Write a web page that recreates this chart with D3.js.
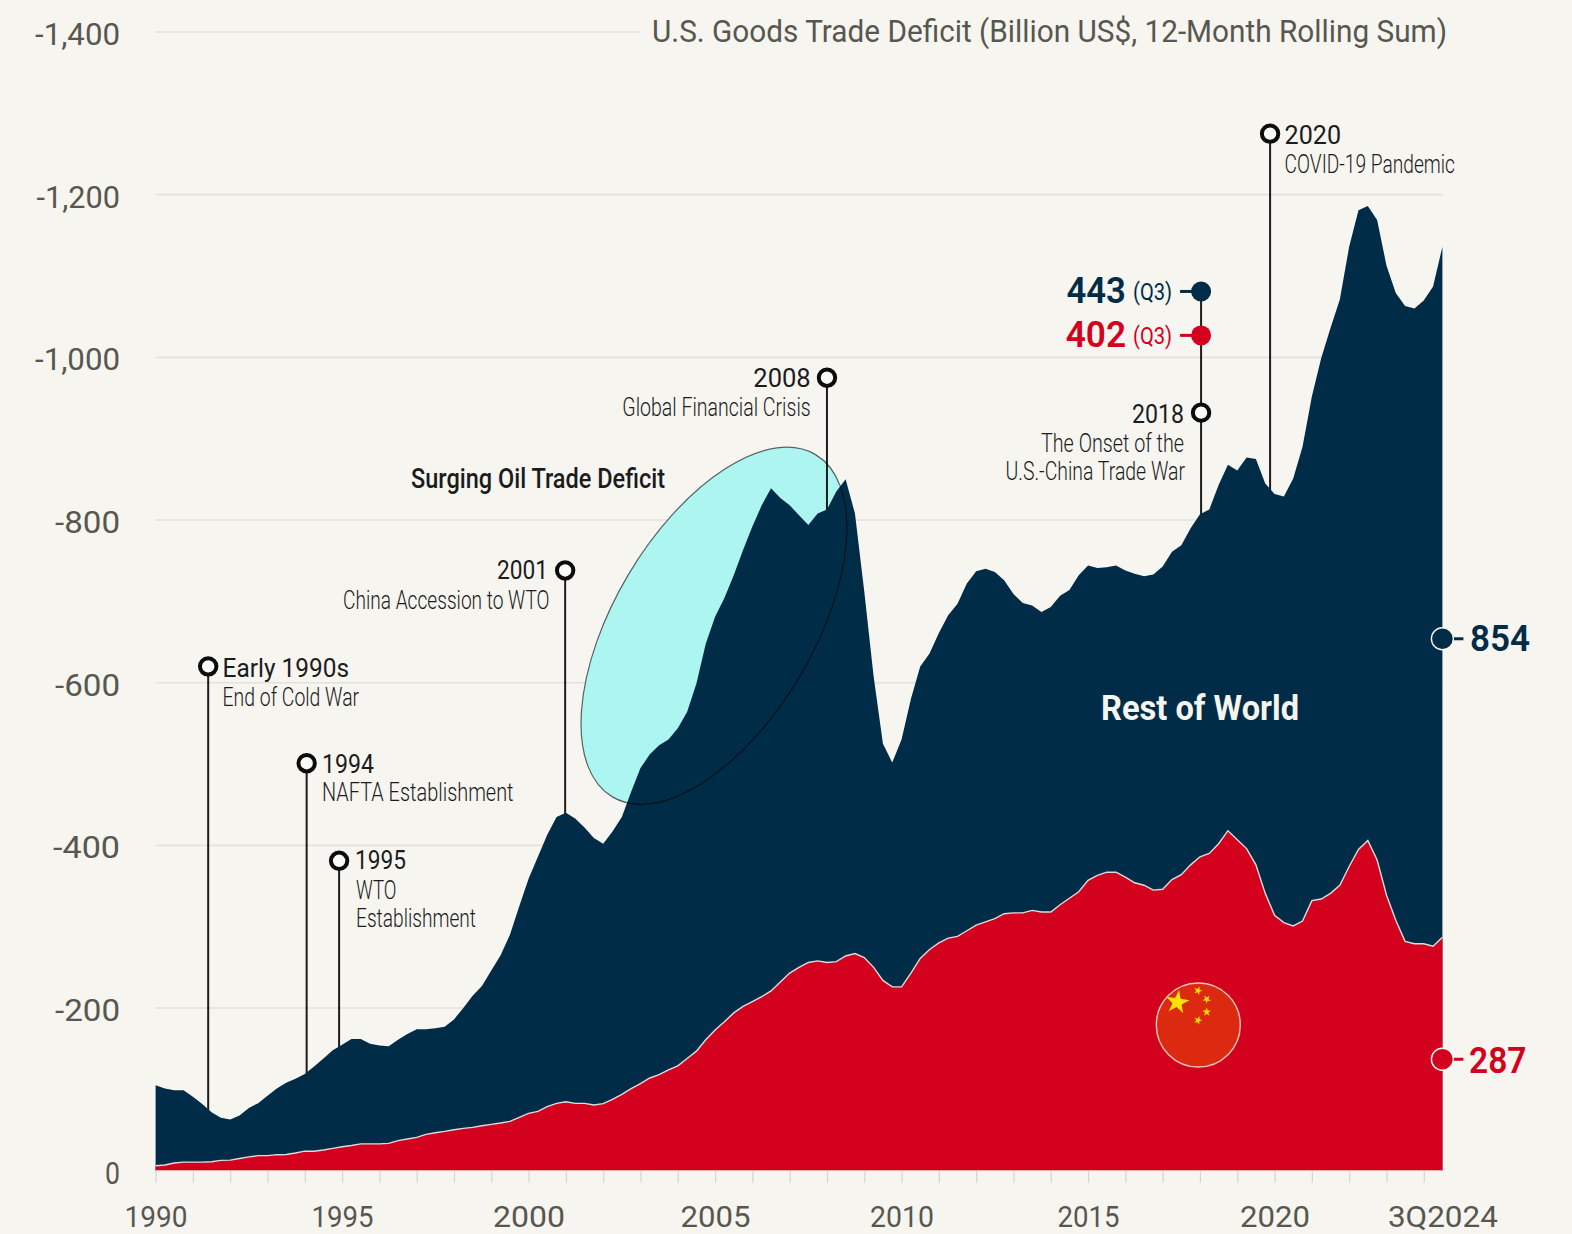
<!DOCTYPE html>
<html>
<head>
<meta charset="utf-8">
<script src="https://cdn.jsdelivr.net/npm/d3@7"></script>
<style>
  html, body { margin: 0; padding: 0; background: #f6f5f0; }
  text { font-family: Roboto, "Noto Sans", sans-serif; }
</style>
</head>
<body>
<div id="chart"></div>
<script>
// quarterly totals, 1Q1990 to 3Q2024, billion US$ (sign dropped)
var totalDeficit = [
  105, 101, 99, 99, 91, 82, 72, 65, 63, 68, 77, 83, 92, 101, 108, 113, 119, 128, 138, 148,
  155, 162, 162, 156, 154, 153, 161, 168, 174, 174, 175, 177, 186, 200, 215, 227, 246, 265, 290, 325,
  359, 386, 413, 435, 440, 433, 422, 409, 402, 417, 435, 466, 495, 512, 523, 530, 544, 564, 599, 648,
  681, 704, 732, 763, 792, 818, 839, 827, 818, 806, 794, 808, 813, 835, 850, 808, 712, 608, 525, 502,
  530, 580, 620, 636, 661, 683, 697, 722, 737, 740, 736, 726, 709, 698, 695, 687, 693, 707, 714, 732,
  744, 741, 742, 744, 738, 734, 731, 733, 743, 761, 769, 790, 807, 813, 843, 868, 861, 877, 875, 845,
  832, 829, 851, 890, 952, 999, 1036, 1071, 1136, 1181, 1186, 1169, 1113, 1079, 1063, 1060, 1070, 1087, 1136
];
var chinaDeficit = [
  6, 7, 9.5, 10.5, 10.5, 10.5, 11, 12.7, 13, 15, 17, 18.5, 18.5, 19.7, 20, 21.7, 24, 24, 25.4, 27.5,
  29.5, 31, 33, 33, 33, 33.6, 37, 39, 41, 44.7, 46.7, 48.4, 50.4, 52, 53.3, 55.3, 57, 58.6, 60.7, 65.6,
  70.5, 73, 78.7, 82.8, 84.8, 82.8, 82.8, 80.7, 82.4, 87.7, 93.9, 100.8, 107, 114, 118, 124, 129, 138, 147, 161,
  173, 183, 194, 202, 208, 214, 221, 232, 243, 250, 256, 258, 256, 257, 264, 267, 262, 250, 234, 226,
  226, 243, 261, 272, 280, 286, 288, 295, 302, 306, 310, 316, 317, 317, 320, 318, 318, 327, 335, 343,
  357, 363, 367, 367, 361, 354, 351, 345, 346, 358, 364, 376, 386, 390, 402, 418, 407, 396, 376, 341,
  314, 305, 301, 307, 332, 334, 341, 351, 374, 395, 406, 382, 339, 308, 282, 279, 279, 276, 287
];

var yTicks = [0, 200, 400, 600, 800, 1000, 1200, 1400];
var yTickLabels = ["0", "-200", "-400", "-600", "-800", "-1,000", "-1,200", "-1,400"];
var yTickWidths = [15, 65, 67, 65, 65, 85, 83.5, 85];
var xTicks = d3.range(1990, 2025).concat([2024.5]);
var xTickLabels = {1990: "1990", 1995: "1995", 2000: "2000", 2005: "2005", 2010: "2010", 2015: "2015", 2020: "2020", 2024.5: "3Q2024"};
var xTickWidths = {1990: 63, 1995: 62, 2000: 72, 2005: 70, 2010: 64, 2015: 62, 2020: 70, 2024.5: 110};

// vertical event markers: where on the time axis, how high the pin goes
var eventDates = [1991.41, 1994.05, 1994.92, 2000.98, 2008, 2018.03, 2019.88];
var eventTops  = [620, 501, 381, 738, 975, 932, 1275];

// set the dimensions and margins of the graph
var fullWidth = 1572, fullHeight = 1234;

var x = d3.scaleLinear().domain([1990, 2024.5]).range([155.6, 1442.4]);
var y = d3.scaleLinear().domain([0, 1400]).range([1170.7, 32]);

var svg = d3.select("#chart")
  .append("svg")
  .attr("width", fullWidth)
  .attr("height", fullHeight)
  .style("display", "block");

svg.append("rect")
  .attr("width", fullWidth)
  .attr("height", fullHeight)
  .attr("fill", "#f6f5f0");

var NAVY = "#012c47", RED = "#d3001e", INK = "#1c1c1c", AXIS = "#57574f";

// gridlines, the top one stops where the title starts
svg.append("g")
  .selectAll("line")
  .data(yTicks.slice(1))
  .enter().append("line")
  .attr("x1", x(1990))
  .attr("x2", function(d) { return d === 1400 ? 640 : x(2024.5); })
  .attr("y1", function(d) { return y(d); })
  .attr("y2", function(d) { return y(d); })
  .attr("stroke", "#e2e1db")
  .attr("stroke-width", 1.6);

// oil deficit ellipse: the fill sits behind the areas, the outline on top
var ellipseDate = 2004.97, ellipseValue = 670;
function ellipse(g) {
  return g.append("ellipse")
    .attr("rx", 199)
    .attr("ry", 99.7)
    .attr("transform", "translate(" + x(ellipseDate) + "," + y(ellipseValue) + ")rotate(-59.3)");
}
ellipse(svg).attr("fill", "#adf5f0");

// event stems, drawn before the areas so they end on the curve
svg.append("g")
  .selectAll("line")
  .data(eventDates)
  .enter().append("line")
  .attr("x1", function(d) { return x(d); })
  .attr("x2", function(d) { return x(d); })
  .attr("y1", function(d, i) { return y(i === 5 ? 1081 : eventTops[i]); })
  .attr("y2", y(0))
  .attr("stroke", INK)
  .attr("stroke-width", 2);

var dates = totalDeficit.map(function(d, i) { return 1990 + i / 4; });

var totalArea = d3.area()
  .x(function(d, i) { return x(dates[i]); })
  .y0(y(0))
  .y1(function(d) { return y(d); });

svg.append("path").datum(totalDeficit).attr("d", totalArea).attr("fill", NAVY);
svg.append("path").datum(chinaDeficit).attr("d", totalArea).attr("fill", RED);

svg.append("path")
  .datum(chinaDeficit)
  .attr("d", d3.line()
    .x(function(d, i) { return x(dates[i]); })
    .y(function(d) { return y(d); }))
  .attr("fill", "none")
  .attr("stroke", "#dcdcdc")
  .attr("stroke-width", 1.4);

ellipse(svg)
  .attr("fill", "none")
  .attr("stroke", "#000")
  .attr("stroke-opacity", 0.6)
  .attr("stroke-width", 1.2);

// Y axis
var yAxis = svg.append("g")
  .attr("transform", "translate(" + x(1990) + ",0)")
  .call(d3.axisLeft(y)
    .tickValues(yTicks)
    .tickSize(0)
    .tickPadding(35.6)
    .tickFormat(function(d, i) { return yTickLabels[i]; }));
yAxis.select(".domain").remove();
yAxis.selectAll("text")
  .attr("y", 12.5)
  .attr("dy", 0)
  .attr("lengthAdjust", "spacingAndGlyphs")
  .attr("textLength", function(d, i) { return yTickWidths[i]; })
  .style("font-size", "32px")
  .style("font-family", "Roboto")
  .attr("fill", AXIS);

// X axis, baseline pulled up a little so the labels stay inside the page
var xAxis = svg.append("g")
  .attr("transform", "translate(0," + y(0) + ")")
  .call(d3.axisBottom(x)
    .tickValues(xTicks)
    .tickSize(12)
    .tickFormat(function(d) { return xTickLabels[d] || ""; }));
xAxis.select(".domain")
  .attr("stroke", "#dcdad4")
  .attr("d", "M" + x(1990) + ",0H" + x(2024.5));
xAxis.selectAll("line")
  .attr("stroke", function(d) { return d === 2024.5 ? "none" : "#d6d5cf"; })
  .attr("stroke-width", 1.2);
xAxis.selectAll("text")
  .attr("y", 56.5)
  .attr("dy", 0)
  .style("font-size", "30px")
  .style("font-family", "Roboto")
  .attr("fill", AXIS)
  .filter(function(d) { return xTickLabels[d]; })
  .attr("lengthAdjust", "spacingAndGlyphs")
  .attr("textLength", function(d) { return xTickWidths[d]; });

// text helper: left edge, baseline, size, weight, colour, target width
function label(s, left, base, size, weight, color, width) {
  svg.append("text")
    .attr("x", left)
    .attr("y", base)
    .attr("lengthAdjust", "spacingAndGlyphs")
    .attr("textLength", width)
    .style("font-size", size + "px")
    .style("font-weight", weight)
    .attr("fill", color)
    .text(s);
}

label("U.S. Goods Trade Deficit (Billion US$, 12-Month Rolling Sum)", 652, 41.5, 31, 400, AXIS, 795);

label("Early 1990s", 222.6, 677, 25, 400, INK, 126.5);
label("End of Cold War", 222.6, 706, 25, 300, INK, 136.5);
label("1994", 322, 773, 25, 400, INK, 52);
label("NAFTA Establishment", 322, 801, 25, 300, INK, 191.5);
label("1995", 355, 869.3, 25, 400, INK, 51);
label("WTO", 356, 899, 25, 300, INK, 40.5);
label("Establishment", 356, 927.3, 25, 300, INK, 120);
label("2001", 497, 579, 25, 400, INK, 51);
label("China Accession to WTO", 343, 608.5, 25, 300, INK, 206.5);
label("2008", 753.3, 386.7, 25, 400, INK, 57.4);
label("Global Financial Crisis", 622.3, 416, 25, 300, INK, 188.4);
label("Surging Oil Trade Deficit", 411, 488.3, 27, 500, INK, 254);
label("2018", 1132, 423.3, 25, 400, INK, 52);
label("The Onset of the", 1041, 452, 25, 300, INK, 143);
label("U.S.-China Trade War", 1005.5, 480, 25, 300, INK, 179.5);
label("2020", 1284.6, 144, 25, 400, INK, 56.4);
label("COVID-19 Pandemic", 1284.6, 173, 25, 300, INK, 170.4);
label("Rest of World", 1101, 720, 35, 700, "#f6f5f0", 198);

// the latest readings and their dots
var dots = [
  {value: 1081, date: 2018.03, color: NAVY, dash: -1},
  {value: 1027, date: 2018.03, color: RED, dash: -1},
  {value: 654, date: 2024.5, color: NAVY, dash: 1},
  {value: 137, date: 2024.5, color: RED, dash: 1}
];
svg.append("g").selectAll("line")
  .data(dots)
  .enter().append("line")
  .attr("x1", function(d) { return x(d.date); })
  .attr("x2", function(d) { return x(d.date) + d.dash * 21; })
  .attr("y1", function(d) { return y(d.value); })
  .attr("y2", function(d) { return y(d.value); })
  .attr("stroke", function(d) { return d.color; })
  .attr("stroke-width", 3);
svg.append("g").selectAll("circle")
  .data(dots)
  .enter().append("circle")
  .attr("cx", function(d) { return x(d.date); })
  .attr("cy", function(d) { return y(d.value); })
  .attr("r", function(d) { return d.dash > 0 ? 11 : 10; })
  .attr("fill", function(d) { return d.color; })
  .attr("stroke", function(d) { return d.dash > 0 ? "#f6f5f0" : "none"; })
  .attr("stroke-width", 1.4);

label("443", 1066.4, 303, 36, 600, NAVY, 59.5);
label("(Q3)", 1133, 300, 23, 400, NAVY, 39);
label("402", 1065.7, 347.3, 36, 600, RED, 60.3);
label("(Q3)", 1133, 344, 23, 400, RED, 39);
label("854", 1470, 651, 36, 600, NAVY, 60);
label("287", 1469, 1073, 36, 600, RED, 57.5);

// event pins
svg.append("g").selectAll("circle")
  .data(eventDates)
  .enter().append("circle")
  .attr("cx", function(d) { return x(d); })
  .attr("cy", function(d, i) { return y(eventTops[i]); })
  .attr("r", 8.2)
  .attr("fill", "#fbfbf8")
  .attr("stroke", "#0c0c0c")
  .attr("stroke-width", 4);

// China flag badge
var flagR = 42;
var flag = svg.append("g").attr("transform", "translate(1198.3,1025)");
flag.append("circle")
  .attr("r", flagR)
  .attr("fill", "#dc2a10")
  .attr("stroke", "#f0c4bc")
  .attr("stroke-width", 1.4);
var flagStars = [
  {dx: -21, dy: -22.7, r: 12.5, turn: 8},
  {dx: -0.3, dy: -34.3, r: 4.5, turn: 20},
  {dx: 8.4, dy: -25.7, r: 4.5, turn: 40},
  {dx: 8.4, dy: -13, r: 4.5, turn: 0},
  {dx: -0.3, dy: -4.7, r: 4.5, turn: 20}
];
flag.selectAll("path")
  .data(flagStars)
  .enter().append("path")
  .attr("d", function(d) { return d3.symbol(d3.symbolStar, d.r * d.r / 0.8908)(); })
  .attr("transform", function(d) { return "translate(" + d.dx + "," + d.dy + ")rotate(" + d.turn + ")"; })
  .attr("fill", "#ffe100");
</script>
</body>
</html>
